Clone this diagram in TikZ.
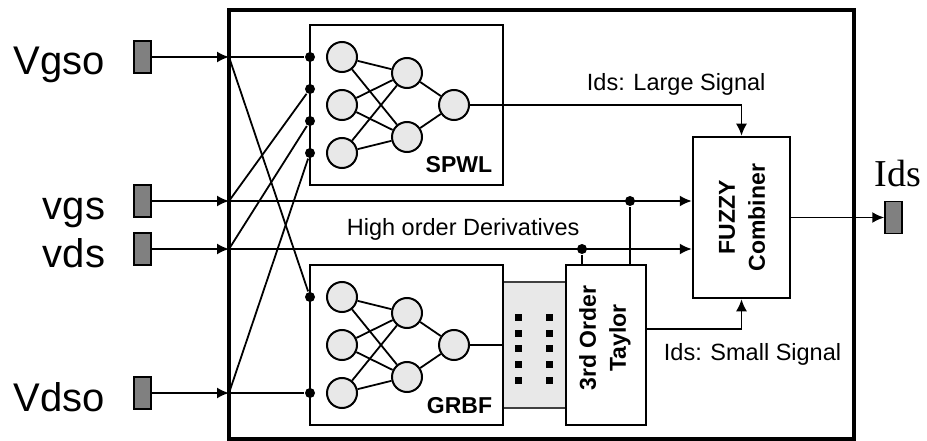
\documentclass[tikz,border=0pt]{standalone}
\usepackage{fontspec}
\setmainfont{Liberation Sans}
\newfontfamily\timesfont{Liberation Serif}
\usetikzlibrary{arrows.meta}

\begin{document}
\begin{tikzpicture}[x=1pt,y=-1pt,line width=1.8pt,>={Latex[length=12pt,width=11pt]},
  port/.style={draw,line width=1.5pt,fill=gray,minimum width=17pt,minimum height=32pt,inner sep=0pt},
  blk/.style={draw,line width=2.5pt,inner sep=0pt},
  neuron/.style={draw,circle,line width=2pt,fill=gray!18,minimum size=30pt,inner sep=0pt},
  jdot/.style={circle,fill,inner sep=0pt,minimum size=10pt},
  big/.style={font=\fontsize{40}{48}\selectfont,inner sep=0pt},
  txt/.style={font=\fontsize{23.5}{30}\selectfont,inner sep=0pt},
  btxt/.style={font=\fontsize{23}{30}\selectfont\bfseries,inner sep=0pt,align=center}]

  \useasboundingbox (0,0) rectangle (927,441);

  % outer system box
  \node[draw,line width=3.5pt,minimum width=625pt,minimum height=429pt] (sys) at (541.5,224.5) {};

  % input ports and labels
  \foreach \n/\t/\y in {a/Vgso/57,b/vgs/201,c/vds/249,d/Vdso/393} {
      \node[port] (p\n) at (142.5,\y) {};
      \node[big,anchor=base east] (l\n) at (106,\y+18) {\t};
      \coordinate (j\n) at (229,\y);
      \draw[->] (p\n.east) -- (j\n);
  }

  % the two networks
  \node[draw=black!75,line width=1.5pt,fill=gray!18,minimum width=63pt,minimum height=126pt] (bus) at (534.5,345) {};
  \node[blk,minimum width=193pt,minimum height=160pt] (spwl) at (406.5,105) {};
  \node[blk,minimum width=193pt,minimum height=160pt] (grbf) at (406.5,345) {};
  \node[btxt,anchor=base east] (spwlt) at (493,173) {SPWL};
  \node[btxt,anchor=base east] (grbft) at (493,413) {GRBF};

  \foreach \net/\yo in {s/0,g/240} {
      \foreach \i/\y in {1/57,2/105,3/153}
          \node[neuron] (\net i\i) at (342,\y+\yo) {};
      \foreach \h/\y in {1/73,2/137}
          \node[neuron] (\net h\h) at (407,\y+\yo) {};
      \node[neuron] (\net o) at (454,105+\yo) {};
      \foreach \h in {1,2} {
          \foreach \i in {1,2,3}
              \draw (\net i\i) -- (\net h\h);
          \draw (\net h\h) -- (\net o);
      }
  }

  % bus of the taylor block
  \foreach \x in {518,549} {
      \foreach \y in {317,333,348,364,380}
          \fill (\x-3.5,\y-3.5) rectangle ++(7,7);
  }

  \node[blk,minimum width=80pt,minimum height=160pt] (taylor) at (606,345) {};
  \node[btxt,rotate=90] (taylort) at (605,338) {3rd Order\\Taylor};
  \node[blk,minimum width=97pt,minimum height=161pt] (fuzzy) at (741.5,217.5) {};
  \node[btxt,rotate=90] (fuzzyt) at (742,217.5) {FUZZY\\Combiner};

  % output port
  \node[port] (pids) at (893.5,217.5) {};
  \node[inner sep=0pt,anchor=base,font=\fontsize{38}{44}\timesfont] (lids) at (898,187) {Ids};

  % junction dots
  \node[jdot] (sd1) at (310,57) {};
  \node[jdot] (sd2) at (310,89) {};
  \node[jdot] (sd3) at (310,121) {};
  \node[jdot] (sd4) at (310,153) {};
  \node[jdot] (gd1) at (310,297) {};
  \node[jdot] (gd2) at (310,393) {};
  \node[jdot] (tj1) at (630,201) {};
  \node[jdot] (tj2) at (582,249) {};

  % inputs into the networks
  \draw (ja) -- (sd1);
  \draw (ja) -- (gd1);
  \draw (jb) -- (sd2);
  \draw (jc) -- (sd3);
  \draw (jd) -- (sd4);
  \draw (jd) -- (gd2);
  \draw[->] (jb) -- (jb -| fuzzy.west);
  \draw[->] (jc) -- (jc -| fuzzy.west);
  \draw (tj1) -- (tj1 |- taylor.north);
  \draw (tj2) -- (tj2 |- taylor.north);

  % outputs
  \draw[->] (so.east) -| (fuzzy.north);
  \draw (go.east) -- (bus.west);
  \draw[->] ([yshift=16pt]taylor.east) -| (fuzzy.south);
  \draw[->] (fuzzy.east) -- (pids.west);

  \node[txt,anchor=base west] (lls) at (586,91) {Ids: Large Signal};
  \node[txt,anchor=base west] (lhd) at (346,235) {High order Derivatives};
  \node[txt,anchor=base west] (lss) at (663,360) {Ids: Small Signal};

\end{tikzpicture}
\end{document}
